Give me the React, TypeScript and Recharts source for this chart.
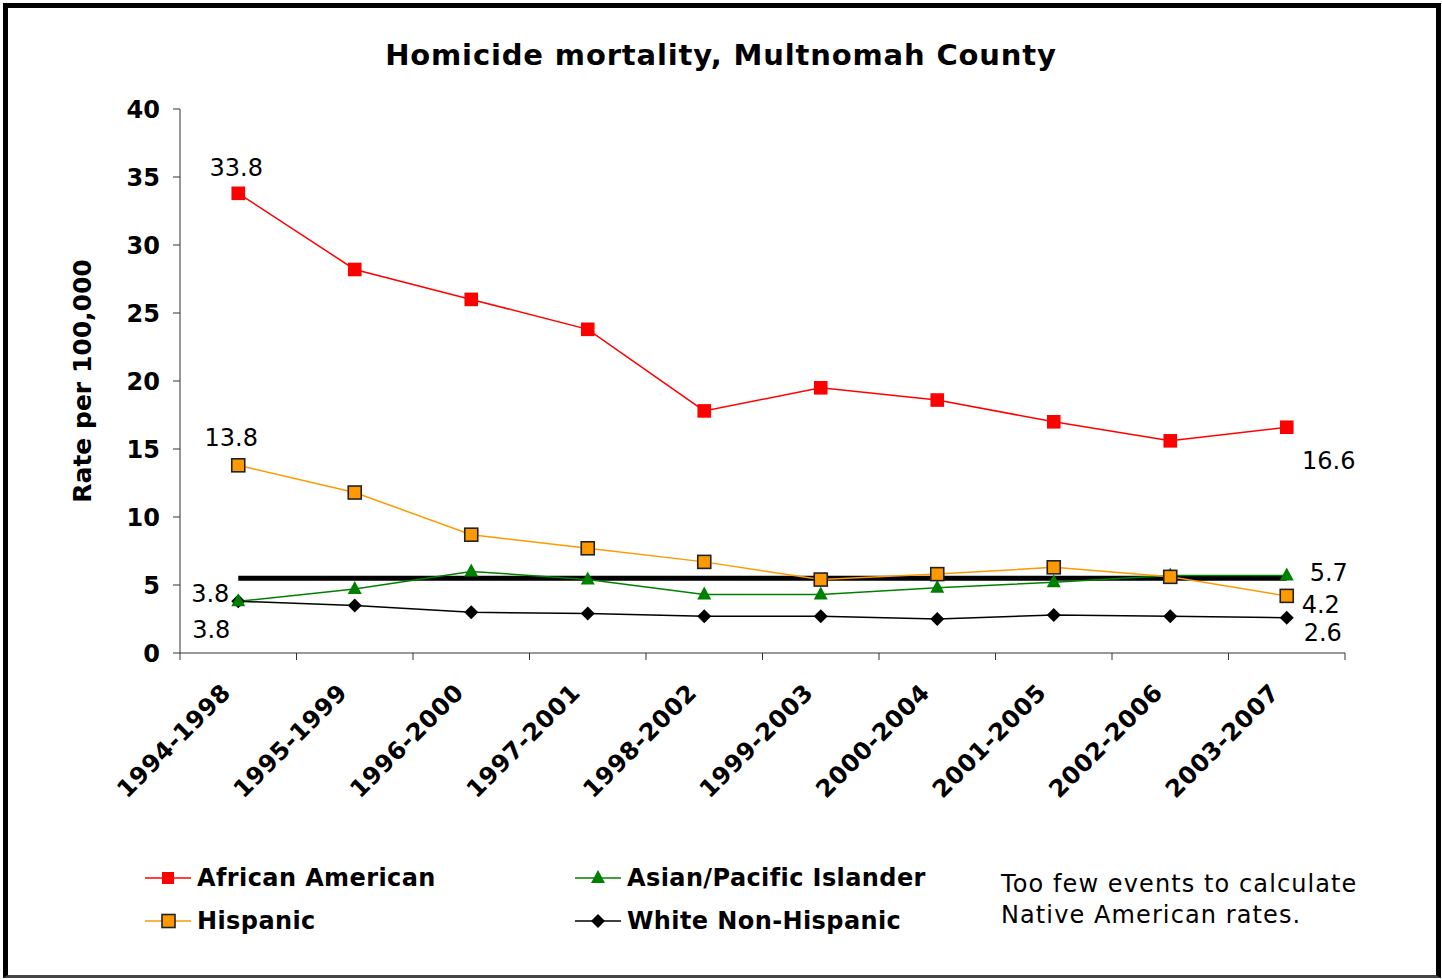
import React from "react";
import { LineChart, Line, XAxis, YAxis, LabelList } from "recharts";

// five-year rolling periods
const periods = [
  "1994-1998",
  "1995-1999",
  "1996-2000",
  "1997-2001",
  "1998-2002",
  "1999-2003",
  "2000-2004",
  "2001-2005",
  "2002-2006",
  "2003-2007",
];

// rates per 100,000
const africanAmerican = [33.8, 28.2, 26.0, 23.8, 17.8, 19.5, 18.6, 17.0, 15.6, 16.6];
const hispanic = [13.8, 11.8, 8.7, 7.7, 6.7, 5.4, 5.8, 6.3, 5.6, 4.2];
const asianPacific = [3.8, 4.7, 6.0, 5.4, 4.3, 4.3, 4.8, 5.2, 5.7, 5.7];
const whiteNonHispanic = [3.8, 3.5, 3.0, 2.9, 2.7, 2.7, 2.5, 2.8, 2.7, 2.6];
const countyOverall = [5.5, 5.5, 5.5, 5.5, 5.5, 5.5, 5.5, 5.5, 5.5, 5.5];

const yTicks = [0, 5, 10, 15, 20, 25, 30, 35, 40];

const chartData = periods.map((period, i) => ({
  period,
  african: africanAmerican[i],
  hispanic: hispanic[i],
  asian: asianPacific[i],
  white: whiteNonHispanic[i],
  overall: countyOverall[i],
}));

const FONT = '"DejaVu Sans", Verdana, sans-serif';
const WIDTH = 1442;
const HEIGHT = 979;
const MARGIN = { top: 109, right: 97, bottom: 226, left: 0 };
const Y_AXIS_W = 180;
const BAND = (WIDTH - MARGIN.right - MARGIN.left - Y_AXIS_W) / periods.length;

const RED = "#ff0000";
const ORANGE = "#ff9900";
const GREEN = "#008000";
const BLACK = "#000000";

// ---- markers ----
const SquareDot = ({ cx, cy, fill, stroke, size }: any) => (
  <rect
    x={cx - size / 2}
    y={cy - size / 2}
    width={size}
    height={size}
    fill={fill}
    stroke={stroke || "none"}
    strokeWidth={stroke ? 1.6 : 0}
  />
);

const TriangleDot = ({ cx, cy }: any) => (
  <polygon
    points={`${cx},${cy - 8} ${cx + 7},${cy + 5} ${cx - 7},${cy + 5}`}
    fill={GREEN}
  />
);

const DiamondDot = ({ cx, cy }: any) => (
  <polygon
    points={`${cx},${cy - 7} ${cx + 7},${cy} ${cx},${cy + 7} ${cx - 7},${cy}`}
    fill={BLACK}
  />
);

// value labels only at first and last period, nudged off the markers
const endLabel =
  (first: [number, number], last: [number, number]) => (props: any) => {
    const { x, y, value, index } = props;
    const off = index === 0 ? first : index === periods.length - 1 ? last : null;
    if (!off) return null;
    return (
      <text
        x={x + off[0]}
        y={y + off[1]}
        textAnchor="middle"
        dominantBaseline="central"
        fontFamily={FONT}
        fontSize={24}
        fill="#000"
      >
        {Number(value).toFixed(1)}
      </text>
    );
  };

// rotated period label plus tick marks on band boundaries
const PeriodTick = (props: any) => {
  const { x, y, payload, index } = props;
  const half = BAND / 2;
  const tx = x - 6;
  const ty = y + 41;
  return (
    <g>
      <line x1={x - half} y1={y} x2={x - half} y2={y + 7} stroke="#333" />
      {index === periods.length - 1 && (
        <line x1={x + half} y1={y} x2={x + half} y2={y + 7} stroke="#333" />
      )}
      <text
        x={tx}
        y={ty}
        textAnchor="end"
        transform={`rotate(-45 ${tx} ${ty})`}
        fontFamily={FONT}
        fontSize={24}
        fontWeight="bold"
        letterSpacing={0.6}
        fill="#000"
      >
        {payload.value}
      </text>
    </g>
  );
};

const LegendMark = ({ kind }: { kind: string }) => (
  <svg width={46} height={20} style={{ display: "block" }}>
    {kind === "african" && (
      <>
        <line x1={0} y1={10} x2={46} y2={10} stroke={RED} strokeWidth={1.5} />
        <rect x={17} y={4} width={12} height={12} fill={RED} />
      </>
    )}
    {kind === "hispanic" && (
      <>
        <line x1={0} y1={10} x2={46} y2={10} stroke={ORANGE} strokeWidth={1.5} />
        <rect x={17} y={3.5} width={13} height={13} fill={ORANGE} stroke="#222" strokeWidth={1.6} />
      </>
    )}
    {kind === "asian" && (
      <>
        <line x1={0} y1={10} x2={46} y2={10} stroke={GREEN} strokeWidth={1.5} />
        <polygon points="23,2 30,15 16,15" fill={GREEN} />
      </>
    )}
    {kind === "white" && (
      <>
        <line x1={0} y1={10} x2={46} y2={10} stroke={BLACK} strokeWidth={1.5} />
        <polygon points="23,3 30,10 23,17 16,10" fill={BLACK} />
      </>
    )}
  </svg>
);

const legendItems = [
  { kind: "african", label: "African American", left: 145, top: 878 },
  { kind: "hispanic", label: "Hispanic", left: 145, top: 921 },
  { kind: "asian", label: "Asian/Pacific Islander", left: 575, top: 878 },
  { kind: "white", label: "White Non-Hispanic", left: 575, top: 921 },
];

export default function App() {
  return (
    <div
      style={{
        position: "absolute",
        left: 0,
        top: 0,
        width: WIDTH,
        height: HEIGHT,
        background: "#fff",
        fontFamily: FONT,
        overflow: "hidden",
      }}
    >
      <div
        style={{
          position: "absolute",
          left: 3,
          top: 3,
          width: 1438,
          height: 975,
          boxSizing: "border-box",
          border: "5px solid #000",
          borderBottom: "3px solid #444",
        }}
      />

      <div
        style={{
          position: "absolute",
          left: 0,
          top: 36,
          width: WIDTH,
          textAlign: "center",
          fontSize: 29,
          fontWeight: "bold",
          letterSpacing: 0.85,
          lineHeight: "38px",
          color: "#000",
        }}
      >
        Homicide mortality, Multnomah County
      </div>

      <div style={{ position: "absolute", left: 0, top: 0 }}>
        <LineChart width={WIDTH} height={HEIGHT} data={chartData} margin={MARGIN}>
          <XAxis
            dataKey="period"
            scale="band"
            height={100}
            axisLine={{ stroke: "#333", strokeWidth: 1 }}
            tickLine={false}
            tickSize={0}
            tickMargin={0}
            interval={0}
            tick={<PeriodTick />}
          />
          <YAxis
            domain={[0, 40]}
            ticks={yTicks}
            width={Y_AXIS_W}
            axisLine={{ stroke: "#333", strokeWidth: 1 }}
            tickLine={{ stroke: "#333" }}
            tickSize={7}
            tickMargin={13}
            tick={{ fontFamily: FONT, fontSize: 24, fontWeight: "bold", fill: "#000" }}
            label={{
              value: "Rate per 100,000",
              angle: -90,
              position: "center",
              dx: -8,
              style: {
                fontFamily: FONT,
                fontSize: 25,
                fontWeight: "bold",
                fill: "#000",
                textAnchor: "middle",
              },
            }}
          />

          <Line
            dataKey="overall"
            stroke={BLACK}
            strokeWidth={5}
            dot={false}
            activeDot={false}
            isAnimationActive={false}
          />
          <Line
            dataKey="white"
            stroke={BLACK}
            strokeWidth={1.5}
            dot={<DiamondDot />}
            isAnimationActive={false}
          >
            <LabelList dataKey="white" content={endLabel([-27, 29], [36, 15])} />
          </Line>
          <Line
            dataKey="asian"
            stroke={GREEN}
            strokeWidth={1.5}
            dot={<TriangleDot />}
            isAnimationActive={false}
          >
            <LabelList dataKey="asian" content={endLabel([-28, -7], [42, -2])} />
          </Line>
          <Line
            dataKey="hispanic"
            stroke={ORANGE}
            strokeWidth={1.5}
            dot={(p: any) => (
              <SquareDot key={`h-${p.index}`} {...p} fill={ORANGE} stroke="#222" size={13} />
            )}
            isAnimationActive={false}
          >
            <LabelList dataKey="hispanic" content={endLabel([-7, -27], [34, 9])} />
          </Line>
          <Line
            dataKey="african"
            stroke={RED}
            strokeWidth={1.5}
            dot={(p: any) => <SquareDot key={`a-${p.index}`} {...p} fill={RED} size={12} />}
            isAnimationActive={false}
          >
            <LabelList dataKey="african" content={endLabel([-2, -25], [42, 34])} />
          </Line>
        </LineChart>
      </div>

      {legendItems.map((item) => (
        <div
          key={item.kind}
          style={{
            position: "absolute",
            left: item.left,
            top: item.top - 15,
            height: 30,
            display: "flex",
            alignItems: "center",
            gap: 6,
            fontSize: 24,
            fontWeight: "bold",
            letterSpacing: 0.4,
            color: "#000",
            whiteSpace: "nowrap",
          }}
        >
          <LegendMark kind={item.kind} />
          <span>{item.label}</span>
        </div>
      ))}

      <div
        style={{
          position: "absolute",
          left: 1001,
          top: 869,
          fontSize: 24,
          letterSpacing: 1.1,
          lineHeight: "31px",
          color: "#000",
        }}
      >
        Too few events to calculate
        <br />
        Native American rates.
      </div>
    </div>
  );
}
